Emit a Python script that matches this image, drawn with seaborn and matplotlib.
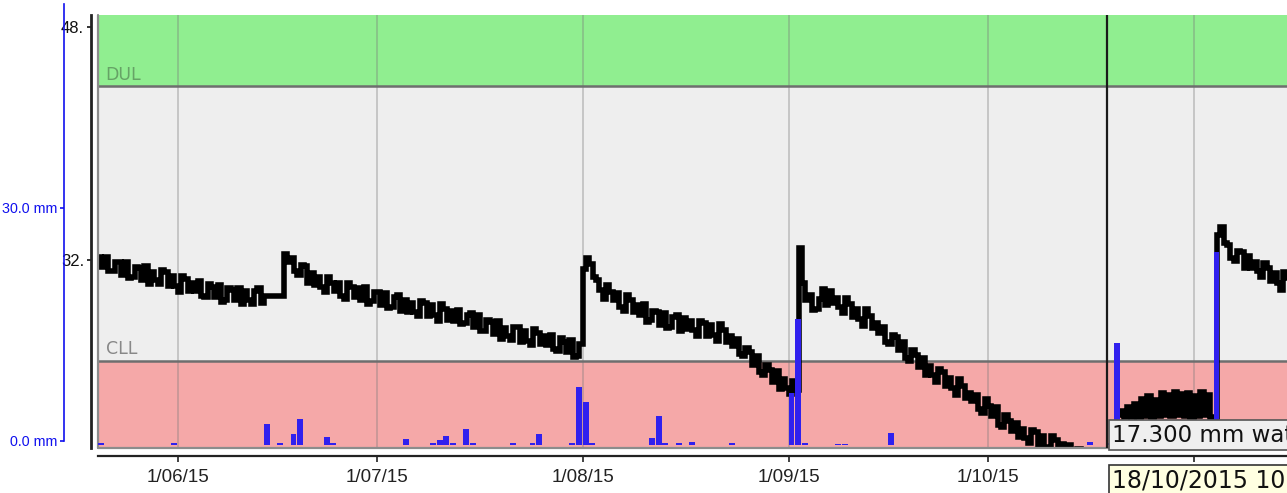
import matplotlib
matplotlib.use("Agg")
import matplotlib.pyplot as plt
import matplotlib.dates as mdates
from matplotlib.ticker import FuncFormatter, FixedLocator
import numpy as np
import pandas as pd
import seaborn as sns

# ---------------------------------------------------------------- data
# Soil water (mm), logged twice a day (00:00 and 12:00) from 20 May 2015
sw_may_jun = [
    32.23, 31.53, 32.23, 31.23, 31.25, 31.85, 31.88, 30.98, 31.83, 30.73,
    30.80, 31.50, 31.45, 30.65, 31.58, 30.38, 31.20, 30.60, 30.38, 31.28,
    31.20, 30.20, 30.90, 30.20, 29.83, 30.93, 30.68, 29.88, 30.45, 29.85,
    30.55, 29.55, 29.48, 30.38, 30.15, 29.45, 30.30, 29.10, 29.25, 30.05,
    29.93, 29.23, 30.05, 28.95, 29.88, 29.28, 29.00, 29.90, 30.08, 29.08,
    29.55, 29.55, 29.55, 29.55, 29.55, 29.55,
]
sw_jun_jul = [
    32.40, 31.85, 32.13, 31.23, 30.95, 31.65, 31.60, 30.40, 31.10, 30.30,
    30.85, 30.15, 29.80, 30.80, 30.45, 29.85, 30.45, 29.55, 29.35, 30.45,
    30.13, 29.43, 30.05, 29.25, 30.15, 28.95, 29.18, 29.78, 29.83, 28.93,
    29.73, 28.73, 28.75, 29.45, 29.58, 28.48, 29.25, 28.45, 29.05, 28.45,
    28.15, 29.15, 29.05, 28.15, 28.90, 28.20, 27.80, 29.00, 28.65, 27.85,
    28.50, 27.80, 28.58, 27.58, 27.65, 28.25, 28.33, 27.43, 28.25, 27.15,
    27.15, 27.85, 27.75, 26.95, 27.80, 26.60, 27.35, 26.75, 26.53, 27.43,
    27.40, 26.40, 27.13, 26.43, 26.15, 27.25, 27.00, 26.20, 26.75, 26.15,
    26.88, 25.88, 25.75, 26.65, 26.38, 25.68, 26.53, 25.33, 25.43, 26.23,
]
sw_aug = [
    31.40, 32.15, 31.70, 30.80, 30.63, 29.93, 29.30, 30.30, 29.83, 29.23,
    29.70, 28.80, 28.50, 29.60, 29.23, 28.43, 28.93, 28.23, 28.95, 27.75,
    27.88, 28.48, 28.43, 27.53, 28.35, 27.35, 27.40, 28.10, 28.25, 27.15,
    28.05, 27.25, 27.80, 27.20, 26.78, 27.78, 27.68, 26.78, 27.53, 26.83,
    26.43, 27.63, 27.18, 26.38, 26.78, 26.08, 26.55, 25.55, 25.38, 25.98,
    25.70, 24.80, 25.40, 24.30, 24.10, 24.80, 24.45, 23.65, 24.35, 23.15,
    23.80, 23.20, 22.78, 23.68, 23.10,
]
sw_sep_oct = [
    32.80,
    30.40, 29.25, 29.58, 28.58, 28.65, 29.35, 29.98, 28.88, 29.85, 29.05,
    29.40, 28.80, 28.38, 29.38, 29.00, 28.10, 28.65, 27.95, 27.45, 28.65,
    28.15, 27.35, 27.70, 27.00, 27.40, 26.40, 26.25, 26.85, 26.70, 25.80,
    26.40, 25.30, 25.10, 25.80, 25.45, 24.65, 25.30, 24.10, 24.70, 24.10,
    23.65, 24.55, 24.33, 23.33, 23.93, 23.23, 22.75, 23.85, 23.35, 22.55,
    22.90, 22.30, 22.75, 21.75, 21.53, 22.43, 22.00, 21.30, 21.90, 20.70,
    20.55, 21.35, 20.98, 20.28, 20.83, 19.83, 20.40, 19.80, 19.45, 20.35,
    20.20, 19.20, 19.90, 19.20, 18.83, 19.93, 19.63, 18.83, 19.35, 18.75,
    19.33, 18.33, 18.10, 19.00, 18.63, 17.93, 18.58, 17.38, 17.33, 18.13,
    17.65, 17.30, 17.58, 16.88,
    17.15,
]
sw_oct_nov = [
    21.35,
    21.65, 21.20, 21.90, 21.20, 22.15, 21.25, 22.45, 21.30, 22.65, 21.25,
    22.40, 21.30, 22.90, 21.35, 22.75, 21.30, 22.95, 21.35, 22.80, 21.30,
    22.85, 21.25, 22.70, 21.30, 22.95, 21.35, 22.75, 21.25,
    21.20, 33.70,
    34.25, 33.15, 33.00, 32.10, 31.90, 32.60, 32.55, 31.45, 32.25, 31.45,
    31.85, 31.25, 30.80, 31.80, 31.43, 30.53, 31.13, 30.43, 29.95, 31.15,
    30.78, 29.98,
]

# Daily rainfall + irrigation (mm)
rain_dates = [
    "2015-05-20", "2015-05-31", "2015-06-14", "2015-06-16", "2015-06-18",
    "2015-06-19", "2015-06-23", "2015-06-24", "2015-07-05", "2015-07-09",
    "2015-07-10", "2015-07-11", "2015-07-12", "2015-07-14", "2015-07-15",
    "2015-07-21", "2015-07-24", "2015-07-25", "2015-07-30", "2015-07-31",
    "2015-08-01", "2015-08-02", "2015-08-11", "2015-08-12", "2015-08-13",
    "2015-08-15", "2015-08-17", "2015-08-23", "2015-09-01", "2015-09-02",
    "2015-09-03", "2015-09-08", "2015-09-09", "2015-09-16", "2015-10-16",
    "2015-10-19", "2015-10-20", "2015-11-04",
]
rain_mm = [
    0.2, 0.3, 2.7, 0.3, 1.4, 3.3, 1.0, 0.3, 0.8, 0.3,
    0.6, 1.2, 0.3, 2.1, 0.3, 0.2, 0.3, 1.4, 0.2, 7.5,
    5.5, 0.2, 0.9, 3.7, 0.2, 0.2, 0.4, 0.2, 6.7, 16.2,
    0.2, 0.15, 0.15, 1.5, 0.4, 0.3, 13.1, 24.8,
]

DUL = 43.9          # drained upper limit (mm)
CLL = 25.1          # crop lower limit (mm)
sw_ticks = [32, 48]
sw_tick_labels = ["32.", "48."]
rain_ticks = [0, 30]
rain_tick_labels = ["0.0 mm", "30.0 mm"]
cursor_time = pd.Timestamp("2015-10-18 22:40")

# ---------------------------------------------------------------- frame
sns.set_style("white")
plt.rcParams["font.family"] = ["DejaVu Sans"]
narrow = ["Liberation Sans Narrow", "Liberation Sans", "DejaVu Sans"]

W, H = 1287, 493
fig = plt.figure(figsize=(W / 100, H / 100), dpi=100)


def fx(px):
    return px / W


def fy(py):
    return 1 - py / H


ax = fig.add_axes([fx(98), fy(448), (1290 - 98) / W, (448 - 15) / H])

sw_values = sw_may_jun + sw_jun_jul + sw_aug + sw_sep_oct + sw_oct_nov
times = pd.date_range("2015-05-20", periods=len(sw_values), freq="12h")
sw = pd.Series(sw_values, index=times)

t0 = pd.Timestamp("2015-05-20")
t1 = t0 + pd.Timedelta(hours=179.5 * 24)
ax.set_xlim(t0, t1)
ax.set_ylim(19.10, 48.80)

# soil water zones
ax.axhspan(DUL, 60, color="#90EE90", lw=0, zorder=0.5)
ax.axhspan(CLL, DUL, color="#EEEEEE", lw=0, zorder=0.5)
ax.axhspan(0, CLL, color="#F5A8A8", lw=0, zorder=0.5)

months = pd.date_range("2015-06-01", "2015-11-01", freq="MS")
for m in months:
    ax.axvline(m, color="#7a7a7a", alpha=0.35, lw=1.4, zorder=0.8)

ax.axhline(DUL, color="#6e6e6e", lw=1.8, zorder=1)
ax.axhline(CLL, color="#6e6e6e", lw=1.8, zorder=1)

ax.annotate("DUL", xy=(0, DUL), xycoords=("axes fraction", "data"),
            xytext=(5.5, 4.5), textcoords="offset points",
            fontsize=12.5, color="#66a366", va="baseline", ha="left")
ax.annotate("CLL", xy=(0, CLL), xycoords=("axes fraction", "data"),
            xytext=(5.5, 4.5), textcoords="offset points",
            fontsize=12.5, color="#888888", va="baseline", ha="left")

# plot border (grey) on the left and bottom of the data area
ax.plot([0, 0], [0, 1], transform=ax.transAxes, color="#8c8c8c", lw=1.6,
        clip_on=False, zorder=4)
ax.plot([0, 1], [0, 0], transform=ax.transAxes, color="#8c8c8c", lw=1.6,
        clip_on=False, zorder=4)

sns.lineplot(x=sw.index, y=sw.values, ax=ax, color="black", lw=4.0,
             drawstyle="steps-post", estimator=None, sort=False, zorder=3,
             solid_joinstyle="miter", solid_capstyle="butt")
ax.set_xlabel("")
ax.set_ylabel("")

# axes decoration
for side in ("top", "right"):
    ax.spines[side].set_visible(False)
ax.spines["left"].set_position(("outward", 5))
ax.spines["left"].set_color("#222222")
ax.spines["left"].set_linewidth(2.0)
ax.spines["bottom"].set_position(("outward", 6))
ax.spines["bottom"].set_color("#222222")
ax.spines["bottom"].set_linewidth(1.6)

ax.yaxis.set_major_locator(FixedLocator(sw_ticks))
ax.set_yticklabels(sw_tick_labels)
ax.tick_params(axis="y", direction="out", length=3, width=1.2, colors="#111111",
               pad=2, left=True)
for lbl in ax.get_yticklabels():
    lbl.set_family(narrow)
    lbl.set_fontsize(12)

ax.xaxis.set_major_locator(mdates.MonthLocator())
ax.xaxis.set_major_formatter(FuncFormatter(
    lambda v, _: (lambda d: f"{d.day}/{d:%m}/{d:%y}")(mdates.num2date(v))))
ax.tick_params(axis="x", direction="out", length=4, width=1.2, colors="#222222",
               pad=5, bottom=True)
for lbl in ax.get_xticklabels():
    lbl.set_family(["Liberation Sans", "DejaVu Sans"])
    lbl.set_fontsize(13.5)
ax.grid(False)

# rainfall bars on their own scale
axr = ax.twinx()
axr.set_ylim(-0.39, 55.3)
axr.bar(pd.to_datetime(rain_dates), rain_mm, width=0.88, align="edge",
        color="#3020ee", lw=0, zorder=2)
axr.set_xlim(t0, t1)
axr.set_yticks([])
for s in axr.spines.values():
    s.set_visible(False)
axr.grid(False)

# cursor and read-outs
axr.axvline(cursor_time, color="#1a1a1a", lw=1.6, zorder=5)
cursor_value = sw.asof(cursor_time)
axr.annotate(f"{cursor_value:.3f} mm water", xy=(cursor_time, 0.030),
             xycoords=("data", "axes fraction"), xytext=(3.5, 0),
             textcoords="offset points", ha="left", va="center",
             fontsize=16.5, color="#111111", annotation_clip=False, zorder=6,
             bbox=dict(boxstyle="square,pad=0.14", fc="#EFEFEF", ec="#555555",
                       lw=1.2))
axr.annotate(cursor_time.strftime("%d/%m/%Y %I:%M %p"),
             xy=(cursor_time, -0.074), xycoords=("data", "axes fraction"),
             xytext=(3.5, 0), textcoords="offset points", ha="left",
             va="center", fontsize=17, color="#111111",
             annotation_clip=False, zorder=6,
             bbox=dict(boxstyle="square,pad=0.14", fc="#FFFFE1", ec="#333333",
                       lw=1.2))

# separate rainfall scale on the far left
axb = fig.add_axes([fx(64), fy(441), 0.0005, (441 - 4) / H])
axb.set_ylim(0, 437 / 7.78)
axb.patch.set_visible(False)
for side in ("top", "right", "bottom"):
    axb.spines[side].set_visible(False)
axb.spines["left"].set_color("#1010ee")
axb.spines["left"].set_linewidth(1.2)
axb.set_xticks([])
axb.set_yticks(rain_ticks)
axb.set_yticklabels(rain_tick_labels)
axb.tick_params(axis="y", direction="out", length=3, width=1.2,
                colors="#1010ee", pad=2, left=True)
for lbl in axb.get_yticklabels():
    lbl.set_family(narrow)
    lbl.set_fontsize(10.3)

fig.savefig("out.png", dpi=100)
